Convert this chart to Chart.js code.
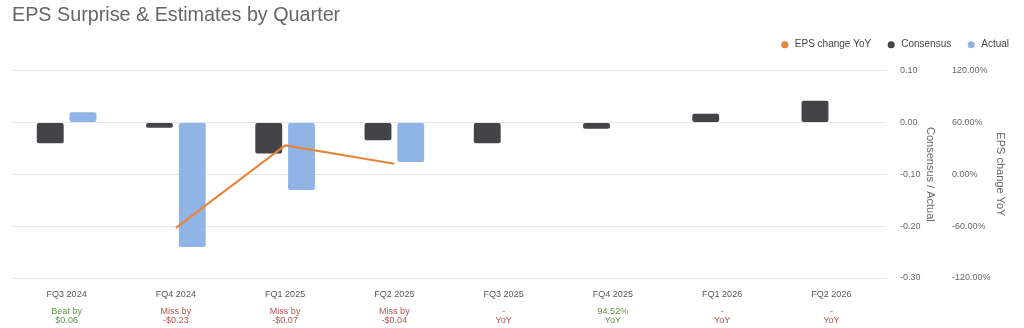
<!DOCTYPE html>
<html>
<head>
<meta charset="utf-8">
<script src="https://cdn.jsdelivr.net/npm/chart.js@4.4.1/dist/chart.umd.min.js"></script>
<style>
  html, body { margin: 0; padding: 0; background: #ffffff; }
  #wrap { width: 1024px; height: 328px; position: relative; }
</style>
</head>
<body>
<div id="wrap"><canvas id="epsChart"></canvas></div>
<script>
// Quarters and EPS figures (USD)
const quarters = ['FQ3 2024', 'FQ4 2024', 'FQ1 2025', 'FQ2 2025', 'FQ3 2025', 'FQ4 2025', 'FQ1 2026', 'FQ2 2026'];
const consensus = [-0.04, -0.01, -0.06, -0.034, -0.04, -0.012, 0.017, 0.042];
const actual = [0.02, -0.24, -0.13, -0.076, null, null, null, null];
// Year over year EPS change, percent
const epsChangeYoY = [null, -62, 33.5, 12.3, null, null, null, null];

// Second line under each quarter: surprise or expected YoY
const surpriseText = [
    ['Beat by', '$0.06'], ['Miss by', '-$0.23'], ['Miss by', '-$0.07'], ['Miss by', '-$0.04'],
    ['-', 'YoY'], ['94.52%', 'YoY'], ['-', 'YoY'], ['-', 'YoY']
];
const surpriseGood = [true, false, false, false, false, true, false, false];

// Tick labels on the two value axes
const leftTicks = [0.1, 0, -0.1, -0.2, -0.3];
const rightTicks = [120, 60, 0, -60, -120];

const FONT = '"Liberation Sans", Arial, sans-serif';
const GREEN = '#5e9443';
const RED = '#b3524e';

Chart.defaults.font.family = FONT;
Chart.defaults.color = '#666666';

// Leaves some room between the legend row and the plot
const legendSpacer = {
    id: 'legendSpacer',
    beforeInit(chart) {
        const origFit = chart.legend.fit;
        chart.legend.fit = function () {
            origFit.bind(chart.legend)();
            this.height += 11;
        };
    }
};

const config = {
    type: 'bar',
    data: {
        labels: quarters,
        datasets: [
            {
                type: 'line',
                label: 'EPS change YoY',
                data: epsChangeYoY,
                yAxisID: 'y1',
                xAxisID: 'x',
                borderColor: '#e8833a',
                backgroundColor: '#e8833a',
                borderWidth: 2,
                pointRadius: 0,
                pointHoverRadius: 0,
                tension: 0,
                order: 0
            },
            {
                label: 'Consensus',
                data: consensus,
                yAxisID: 'y',
                xAxisID: 'x',
                backgroundColor: '#434348',
                borderRadius: 2,
                borderSkipped: false,
                categoryPercentage: 0.6,
                barPercentage: 0.82,
                order: 1
            },
            {
                label: 'Actual',
                data: actual,
                yAxisID: 'y',
                xAxisID: 'x',
                backgroundColor: '#91b4e6',
                borderRadius: 2,
                borderSkipped: false,
                categoryPercentage: 0.6,
                barPercentage: 0.82,
                order: 1
            }
        ]
    },
    options: {
        responsive: true,
        maintainAspectRatio: false,
        animation: false,
        layout: {
            padding: { left: 12, right: 0, top: 0, bottom: 0 }
        },
        scales: {
            x: {
                position: 'bottom',
                offset: true,
                afterFit: (axis) => { axis.height = 21; },
                grid: { display: false, drawTicks: false },
                border: { display: false },
                ticks: {
                    color: '#555555',
                    font: { size: 9, lineHeight: 1.0 },
                    padding: 12,
                    maxRotation: 0,
                    autoSkip: false
                }
            },
            x2: {
                type: 'category',
                position: 'bottom',
                offset: true,
                afterFit: (axis) => { axis.height = 29; },
                grid: { display: false, drawTicks: false },
                border: { display: false },
                ticks: {
                    callback: (val, i) => surpriseText[i],
                    color: (c) => surpriseGood[c.index] ? GREEN : RED,
                    font: { size: 9, lineHeight: 1.0 },
                    padding: 8,
                    maxRotation: 0,
                    autoSkip: false
                }
            },
            y: {
                position: 'right',
                min: -0.3,
                max: 0.1,
                afterBuildTicks: (axis) => { axis.ticks = leftTicks.map(v => ({ value: v })); },
                afterFit: (axis) => { axis.width = 53; },
                grid: { color: '#e6e6e6', drawTicks: false },
                border: { display: false },
                ticks: {
                    callback: (v) => v.toFixed(2),
                    font: { size: 9 },
                    padding: 14
                },
                title: {
                    display: true,
                    text: 'Consensus / Actual',
                    font: { size: 11 },
                    color: '#666666',
                    padding: { top: 2, bottom: 4 }
                }
            },
            y1: {
                position: 'right',
                min: -120,
                max: 120,
                afterBuildTicks: (axis) => { axis.ticks = rightTicks.map(v => ({ value: v })); },
                afterFit: (axis) => { axis.width = 85; },
                grid: { display: false, drawTicks: false },
                border: { display: false },
                ticks: {
                    callback: (v) => v.toFixed(2) + '%',
                    font: { size: 9 },
                    padding: 13
                },
                title: {
                    display: true,
                    text: 'EPS change YoY',
                    font: { size: 11 },
                    color: '#666666',
                    padding: { top: 17, bottom: 0 }
                }
            }
        },
        plugins: {
            title: {
                display: true,
                text: 'EPS Surprise & Estimates by Quarter',
                align: 'start',
                color: '#666666',
                font: { size: 19.75, weight: 'normal' },
                padding: { top: 4, bottom: -3 }
            },
            legend: {
                display: true,
                position: 'top',
                align: 'end',
                labels: {
                    usePointStyle: true,
                    pointStyle: 'circle',
                    boxWidth: 11,
                    boxHeight: 5,
                    color: '#444444',
                    font: { size: 10 },
                    padding: 15,
                    generateLabels: (chart) => {
                        const items = Chart.defaults.plugins.legend.labels.generateLabels(chart);
                        items.forEach(item => { item.lineWidth = 0; });
                        return items;
                    }
                }
            },
            tooltip: { enabled: false }
        }
    },
    plugins: [legendSpacer]
};

const epsChart = new Chart('epsChart', config);
</script>
</body>
</html>
